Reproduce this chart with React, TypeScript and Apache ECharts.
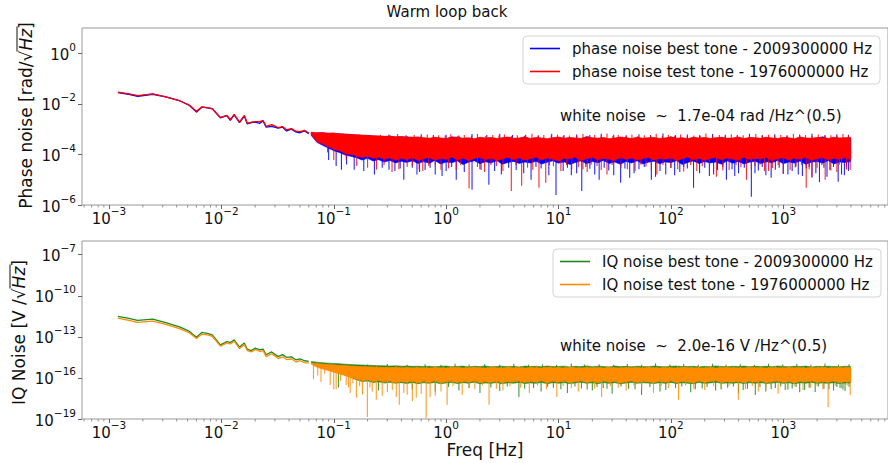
import React, { useEffect, useRef } from 'react';
import * as echarts from 'echarts';

const FONT = "'DejaVu Sans', sans-serif";

// ---------- axis ranges / labels ----------
const X_MIN = 5.75e-4;
const X_MAX = 8.55e3;
const TOP_Y_MIN = 1e-6;
const TOP_Y_MAX = 10;
const BOT_Y_MIN = 1e-19;
const BOT_Y_MAX = 1e-6;
const MINOR_MANTISSAS = [2, 3, 4, 5, 6, 7, 8, 9];
const MINOR_DECADES = [1e-4, 1e-3, 1e-2, 1e-1, 1, 10, 100, 1000];

const TITLE = 'Warm loop back';
const Y_NAME_TOP = 'Phase noise [rad/\u221a{it|Hz}]';
const Y_NAME_BOT = 'IQ Noise [V /\u221a{it|Hz}]';
const X_NAME = 'Freq [Hz]';
const NAME_BEST_PHASE = 'phase noise best tone - 2009300000 Hz';
const NAME_TEST_PHASE = 'phase noise test tone - 1976000000 Hz';
const NAME_BEST_IQ = 'IQ noise best tone - 2009300000 Hz';
const NAME_TEST_IQ = 'IQ noise test tone - 1976000000 Hz';
const NOTE_TOP = 'white noise  ~  1.7e-04 rad /Hz^(0.5)';
const NOTE_BOT = 'white noise  ~  2.0e-16 V /Hz^(0.5)';

// ---------- low-frequency (smooth) part ----------
const lowFreq = [1.2e-3, 1.5e-3, 1.8e-3, 2.45e-3, 3.2e-3, 4.3e-3, 5.2e-3, 6.0e-3, 6.7e-3, 7.5e-3, 8.3e-3, 9.8e-3, 1.12e-2, 1.2e-2, 1.3e-2, 1.45e-2, 1.6e-2, 1.7e-2, 1.85e-2, 2.0e-2, 2.2e-2, 2.35e-2, 2.5e-2, 2.8e-2, 3.2e-2, 3.5e-2, 3.8e-2, 4.2e-2, 4.6e-2, 5.0e-2, 5.5e-2, 6.0e-2];
const phaseBestLow = [0.028, 0.024, 0.020, 0.024, 0.019, 0.013, 0.0086, 0.0047, 0.0074, 0.0070, 0.0063, 0.0028, 0.0034, 0.0022, 0.0037, 0.0018, 0.0033, 0.0016, 0.0018, 0.0019, 0.0017, 0.0021, 0.0012, 0.0013, 0.0011, 0.0012, 0.00085, 0.001, 0.00078, 0.00072, 0.00085, 0.00066];
const phaseTestLow = [0.029, 0.025, 0.021, 0.025, 0.019, 0.013, 0.0089, 0.0051, 0.0076, 0.0071, 0.0065, 0.0029, 0.0035, 0.0024, 0.0038, 0.0019, 0.0035, 0.0017, 0.0019, 0.0020, 0.0020, 0.0022, 0.0013, 0.0015, 0.00115, 0.00126, 0.00095, 0.00105, 0.00083, 0.0008, 0.00089, 0.0007];
const iqBestLow = [3.1e-12, 2.2e-12, 1.6e-12, 1.95e-12, 1.1e-12, 5.1e-13, 2.5e-13, 9.5e-14, 2.1e-13, 1.8e-13, 1.4e-13, 2.6e-14, 4.5e-14, 3.9e-14, 6.0e-14, 1.8e-14, 3.5e-14, 1.26e-14, 1.0e-14, 1.5e-14, 1.1e-14, 1.26e-14, 4.9e-15, 7.9e-15, 3.6e-15, 5.0e-15, 3.2e-15, 3.5e-15, 2.1e-15, 2.5e-15, 1.8e-15, 1.6e-15];
const iqTestLow = [2.3e-12, 1.6e-12, 1.15e-12, 1.4e-12, 8.0e-13, 3.8e-13, 1.9e-13, 7.5e-14, 1.6e-13, 1.4e-13, 1.1e-13, 2.1e-14, 3.6e-14, 3.0e-14, 4.8e-14, 1.4e-14, 2.8e-14, 1.0e-14, 8.0e-15, 1.2e-14, 8.5e-15, 1.0e-14, 3.6e-15, 5.8e-15, 2.6e-15, 3.5e-15, 2.2e-15, 2.5e-15, 1.5e-15, 1.8e-15, 1.3e-15, 1.2e-15];

// ---------- white-noise band: upper / lower envelope ----------
const bandFreq = [0.0631, 0.0708, 0.0794, 0.0891,
  0.1, 0.112, 0.126, 0.141, 0.158, 0.178, 0.2, 0.224, 0.251, 0.282, 0.316, 0.355, 0.398, 0.447, 0.501, 0.562, 0.631, 0.708, 0.794, 0.891,
  1, 1.12, 1.26, 1.41, 1.58, 1.78, 2, 2.24, 2.51, 2.82, 3.16, 3.55, 3.98, 4.47, 5.01, 5.62, 6.31, 7.08, 7.94, 8.91,
  10, 11.2, 12.6, 14.1, 15.8, 17.8, 20, 22.4, 25.1, 28.2, 31.6, 35.5, 39.8, 44.7, 50.1, 56.2, 63.1, 70.8, 79.4, 89.1,
  100, 112, 126, 141, 158, 178, 200, 224, 251, 282, 316, 355, 398, 447, 501, 562, 631, 708, 794, 891,
  1000, 1120, 1260, 1410, 1580, 1780, 2000, 2240, 2510, 2820, 3160, 3550, 3980];

const phaseBestHi = [7.2e-4, 7.1e-4, 7.2e-4, 6.8e-4, 6.9e-4, 6.5e-4, 6.3e-4, 6.1e-4, 5.9e-4, 5.7e-4, 5.6e-4, 5.4e-4, 5.3e-4, 5.1e-4, 5.2e-4, 4.9e-4, 5.0e-4, 4.8e-4, 4.7e-4, 4.8e-4,
  4.4e-4, 4.2e-4, 4.6e-4, 4.3e-4, 4.1e-4, 5.0e-4, 4.6e-4, 4.2e-4, 4.4e-4, 4.0e-4, 4.6e-4, 4.3e-4, 4.5e-4, 4.1e-4, 4.4e-4, 4.7e-4, 4.2e-4, 4.3e-4, 5.0e-4, 4.1e-4,
  4.5e-4, 4.3e-4, 4.0e-4, 4.4e-4, 4.7e-4, 4.2e-4, 4.5e-4, 4.3e-4, 4.1e-4, 5.1e-4, 4.4e-4, 4.2e-4, 4.5e-4, 4.0e-4, 4.3e-4, 4.7e-4, 4.4e-4, 4.1e-4, 4.6e-4, 4.2e-4,
  4.4e-4, 4.5e-4, 4.1e-4, 4.3e-4, 5.0e-4, 4.2e-4, 4.4e-4, 4.0e-4, 4.6e-4, 4.3e-4, 4.5e-4, 4.1e-4, 4.4e-4, 4.6e-4, 4.2e-4, 4.3e-4, 4.7e-4, 4.1e-4, 4.5e-4, 4.4e-4,
  4.2e-4, 4.6e-4, 4.3e-4, 4.1e-4, 4.5e-4, 4.4e-4, 4.0e-4, 4.7e-4, 4.3e-4, 4.2e-4, 4.5e-4, 5.0e-4, 4.1e-4, 4.6e-4, 4.3e-4, 4.4e-4, 4.5e-4];
const phaseBestLo = [5.6e-4, 3.0e-4, 2.3e-4, 1.8e-4, 1.4e-4, 1.2e-4, 9.5e-5, 8.5e-5, 7.5e-5, 6.0e-5, 7.0e-5, 5.5e-5, 6.2e-5, 5.0e-5, 5.8e-5, 4.6e-5, 5.4e-5, 4.8e-5, 5.6e-5, 4.4e-5,
  5.2e-5, 4.5e-5, 5.8e-5, 4.2e-5, 5.0e-5, 4.7e-5, 5.5e-5, 4.0e-5, 4.9e-5, 5.6e-5, 4.3e-5, 5.1e-5, 4.6e-5, 5.7e-5, 4.1e-5, 4.8e-5, 5.3e-5, 4.4e-5, 5.0e-5, 4.6e-5,
  5.4e-5, 4.2e-5, 4.9e-5, 5.6e-5, 4.5e-5, 5.1e-5, 4.0e-5, 4.8e-5, 5.5e-5, 4.3e-5, 5.2e-5, 4.7e-5, 5.8e-5, 4.4e-5, 5.0e-5, 4.1e-5, 5.3e-5, 4.6e-5, 5.6e-5, 4.2e-5,
  4.9e-5, 5.4e-5, 4.3e-5, 5.1e-5, 4.7e-5, 5.7e-5, 4.0e-5, 4.8e-5, 5.5e-5, 4.4e-5, 5.2e-5, 4.6e-5, 5.0e-5, 4.1e-5, 5.6e-5, 4.5e-5, 5.3e-5, 4.2e-5, 4.9e-5, 5.4e-5,
  4.4e-5, 5.1e-5, 4.7e-5, 5.8e-5, 4.3e-5, 5.0e-5, 4.6e-5, 5.5e-5, 4.1e-5, 4.9e-5, 5.3e-5, 4.5e-5, 5.7e-5, 4.2e-5, 5.0e-5, 4.8e-5, 5.2e-5];
const phaseTestHi = [7.6e-4, 7.2e-4, 7.4e-4, 6.9e-4, 7.0e-4, 6.6e-4, 6.4e-4, 6.2e-4, 6.0e-4, 5.8e-4, 5.7e-4, 5.5e-4, 5.4e-4, 5.2e-4, 5.3e-4, 5.0e-4, 5.1e-4, 4.9e-4, 4.8e-4, 4.9e-4,
  4.6e-4, 4.4e-4, 4.8e-4, 4.5e-4, 4.3e-4, 4.7e-4, 4.9e-4, 4.4e-4, 4.6e-4, 4.2e-4, 4.8e-4, 4.5e-4, 4.7e-4, 4.3e-4, 4.6e-4, 4.9e-4, 4.4e-4, 4.5e-4, 4.8e-4, 4.3e-4,
  4.7e-4, 4.5e-4, 4.2e-4, 4.6e-4, 4.9e-4, 4.4e-4, 4.7e-4, 4.5e-4, 4.3e-4, 4.8e-4, 4.6e-4, 4.4e-4, 4.7e-4, 4.2e-4, 4.5e-4, 4.9e-4, 4.6e-4, 4.3e-4, 4.8e-4, 4.4e-4,
  4.6e-4, 4.7e-4, 4.3e-4, 4.5e-4, 4.9e-4, 4.4e-4, 4.6e-4, 4.2e-4, 4.8e-4, 4.5e-4, 4.7e-4, 4.3e-4, 4.6e-4, 4.8e-4, 4.4e-4, 4.5e-4, 4.9e-4, 4.3e-4, 4.7e-4, 4.6e-4,
  4.4e-4, 4.8e-4, 4.5e-4, 4.3e-4, 4.7e-4, 4.6e-4, 4.2e-4, 4.9e-4, 4.5e-4, 4.4e-4, 4.7e-4, 4.6e-4, 4.3e-4, 4.8e-4, 4.5e-4, 4.6e-4, 4.7e-4];
const phaseTestLo = [6.0e-4, 3.2e-4, 2.6e-4, 2.0e-4, 1.6e-4, 1.4e-4, 1.1e-4, 1.0e-4, 9.0e-5, 7.5e-5, 8.5e-5, 7.0e-5, 7.8e-5, 6.5e-5, 7.2e-5, 6.0e-5, 7.0e-5, 6.2e-5, 7.5e-5, 5.8e-5,
  6.8e-5, 7.6e-5, 5.9e-5, 7.0e-5, 6.3e-5, 8.0e-5, 6.0e-5, 7.3e-5, 5.6e-5, 6.9e-5, 7.8e-5, 6.1e-5, 7.1e-5, 5.7e-5, 6.6e-5, 7.7e-5, 6.2e-5, 7.4e-5, 5.9e-5, 6.8e-5,
  7.9e-5, 6.0e-5, 7.2e-5, 6.4e-5, 5.5e-5, 7.0e-5, 6.7e-5, 7.8e-5, 5.8e-5, 6.9e-5, 7.5e-5, 6.1e-5, 7.1e-5, 6.5e-5, 5.7e-5, 7.6e-5, 6.3e-5, 7.3e-5, 6.0e-5, 6.8e-5,
  7.7e-5, 5.9e-5, 7.0e-5, 6.4e-5, 7.4e-5, 5.6e-5, 6.7e-5, 7.9e-5, 6.2e-5, 7.1e-5, 5.8e-5, 6.9e-5, 7.5e-5, 6.1e-5, 7.2e-5, 6.5e-5, 5.9e-5, 7.8e-5, 6.3e-5, 7.0e-5,
  6.6e-5, 7.6e-5, 5.7e-5, 6.9e-5, 7.3e-5, 6.0e-5, 7.1e-5, 6.4e-5, 7.7e-5, 5.8e-5, 6.8e-5, 7.4e-5, 6.2e-5, 7.0e-5, 6.5e-5, 7.5e-5, 6.1e-5];

const iqBestHi = [1.6e-15, 1.4e-15, 1.3e-15, 1.2e-15, 1.15e-15, 1.1e-15, 1.0e-15, 9.5e-16, 9.0e-16, 8.8e-16, 8.4e-16, 8.2e-16, 7.9e-16, 7.7e-16, 7.4e-16, 7.6e-16, 7.2e-16, 7.3e-16, 7.0e-16, 7.2e-16,
  6.8e-16, 7.2e-16, 6.5e-16, 7.0e-16, 7.4e-16, 6.6e-16, 6.9e-16, 7.3e-16, 6.4e-16, 7.1e-16, 6.7e-16, 7.5e-16, 6.5e-16, 6.9e-16, 7.2e-16, 6.6e-16, 7.0e-16, 6.3e-16, 7.3e-16, 6.8e-16,
  7.1e-16, 6.5e-16, 7.4e-16, 6.7e-16, 6.9e-16, 7.2e-16, 6.4e-16, 7.0e-16, 6.8e-16, 7.5e-16, 6.6e-16, 7.1e-16, 6.9e-16, 6.4e-16, 7.3e-16, 6.7e-16, 7.0e-16, 6.5e-16, 7.2e-16, 6.8e-16,
  6.6e-16, 7.3e-16, 6.9e-16, 6.5e-16, 7.1e-16, 7.4e-16, 6.7e-16, 6.8e-16, 7.2e-16, 6.4e-16, 7.0e-16, 6.6e-16, 7.5e-16, 6.9e-16, 6.5e-16, 7.1e-16, 6.8e-16, 7.3e-16, 6.6e-16, 7.0e-16,
  6.7e-16, 7.2e-16, 6.5e-16, 7.4e-16, 6.9e-16, 6.6e-16, 7.1e-16, 6.8e-16, 7.3e-16, 6.4e-16, 7.0e-16, 6.7e-16, 7.2e-16, 6.9e-16, 6.5e-16, 7.1e-16, 6.8e-16];
const iqBestLo = [1.3e-15, 7.5e-16, 5.5e-16, 4.0e-16, 3.0e-16, 2.2e-16, 1.6e-16, 1.1e-16, 7.5e-17, 5.5e-17, 6.0e-17, 4.6e-17, 5.2e-17, 4.2e-17, 4.8e-17, 4.0e-17, 4.5e-17, 3.9e-17, 4.6e-17, 3.8e-17,
  4.4e-17, 4.0e-17, 4.7e-17, 3.8e-17, 4.3e-17, 4.6e-17, 3.9e-17, 4.5e-17, 4.1e-17, 4.8e-17, 3.8e-17, 4.3e-17, 4.0e-17, 4.6e-17, 3.7e-17, 4.4e-17, 4.1e-17, 4.7e-17, 3.9e-17, 4.3e-17,
  4.0e-17, 4.6e-17, 3.8e-17, 4.5e-17, 4.1e-17, 4.5e-17, 3.9e-17, 4.3e-17, 4.8e-17, 4.0e-17, 4.4e-17, 3.8e-17, 4.6e-17, 4.0e-17, 4.5e-17, 3.7e-17, 4.2e-17, 4.7e-17, 4.0e-17, 4.4e-17,
  4.2e-17, 3.9e-17, 4.5e-17, 4.0e-17, 4.7e-17, 3.9e-17, 4.4e-17, 4.1e-17, 3.8e-17, 4.6e-17, 4.0e-17, 4.3e-17, 4.8e-17, 4.0e-17, 4.3e-17, 4.1e-17, 4.5e-17, 3.9e-17, 4.4e-17, 4.1e-17,
  4.5e-17, 3.9e-17, 4.2e-17, 4.6e-17, 4.0e-17, 4.4e-17, 3.8e-17, 4.4e-17, 4.1e-17, 4.7e-17, 4.0e-17, 4.3e-17, 4.0e-17, 4.5e-17, 3.9e-17, 4.3e-17, 4.2e-17];
const iqTestHi = [1.25e-15, 1.15e-15, 1.05e-15, 9.5e-16, 9.0e-16, 8.5e-16, 8.0e-16, 7.5e-16, 7.0e-16, 6.8e-16, 6.5e-16, 6.3e-16, 6.1e-16, 6.0e-16, 5.8e-16, 5.9e-16, 5.6e-16, 5.7e-16, 5.5e-16, 5.6e-16,
  5.6e-16, 5.4e-16, 5.8e-16, 5.5e-16, 5.3e-16, 5.9e-16, 5.7e-16, 5.4e-16, 5.6e-16, 6.0e-16, 5.5e-16, 5.3e-16, 5.8e-16, 5.6e-16, 5.4e-16, 5.9e-16, 5.5e-16, 5.7e-16, 5.3e-16, 5.8e-16,
  5.6e-16, 5.4e-16, 6.0e-16, 5.5e-16, 5.7e-16, 5.3e-16, 5.9e-16, 5.6e-16, 5.4e-16, 5.8e-16, 5.5e-16, 5.7e-16, 5.3e-16, 6.1e-16, 5.6e-16, 5.4e-16, 5.8e-16, 5.5e-16, 5.7e-16, 5.3e-16,
  5.9e-16, 5.6e-16, 5.4e-16, 5.8e-16, 5.5e-16, 5.3e-16, 6.0e-16, 5.7e-16, 5.5e-16, 5.6e-16, 5.4e-16, 5.9e-16, 5.3e-16, 5.7e-16, 5.8e-16, 5.5e-16, 5.6e-16, 5.4e-16, 6.0e-16, 5.5e-16,
  5.7e-16, 5.3e-16, 5.8e-16, 5.6e-16, 5.4e-16, 5.9e-16, 5.5e-16, 5.7e-16, 5.3e-16, 5.8e-16, 5.6e-16, 6.0e-16, 5.4e-16, 5.5e-16, 5.7e-16, 5.6e-16, 5.8e-16];
const iqTestLo = [1.0e-15, 6.0e-16, 4.5e-16, 3.5e-16, 2.6e-16, 2.0e-16, 1.5e-16, 1.1e-16, 8.5e-17, 6.5e-17, 7.5e-17, 5.5e-17, 6.5e-17, 5.0e-17, 6.0e-17, 4.5e-17, 5.5e-17, 4.8e-17, 6.0e-17, 4.4e-17,
  5.4e-17, 4.7e-17, 6.1e-17, 4.3e-17, 5.2e-17, 5.8e-17, 4.5e-17, 5.6e-17, 4.9e-17, 6.2e-17, 4.4e-17, 5.3e-17, 4.7e-17, 5.9e-17, 4.2e-17, 5.5e-17, 5.0e-17, 6.0e-17, 4.6e-17, 5.4e-17,
  4.8e-17, 6.1e-17, 4.3e-17, 5.6e-17, 5.0e-17, 5.8e-17, 4.5e-17, 5.3e-17, 6.2e-17, 4.7e-17, 5.5e-17, 4.4e-17, 5.9e-17, 4.9e-17, 5.7e-17, 4.2e-17, 5.2e-17, 6.0e-17, 4.6e-17, 5.4e-17,
  5.1e-17, 4.4e-17, 5.8e-17, 4.8e-17, 6.1e-17, 4.5e-17, 5.5e-17, 5.0e-17, 4.3e-17, 5.9e-17, 4.7e-17, 5.4e-17, 6.2e-17, 4.6e-17, 5.3e-17, 4.9e-17, 5.7e-17, 4.4e-17, 5.6e-17, 5.0e-17,
  5.8e-17, 4.5e-17, 5.2e-17, 6.0e-17, 4.7e-17, 5.5e-17, 4.3e-17, 5.7e-17, 5.0e-17, 6.1e-17, 4.6e-17, 5.4e-17, 4.8e-17, 5.9e-17, 4.4e-17, 5.3e-17, 5.1e-17];

// ---------- spikes outside the band: [freq, value] ----------
const phaseBestDips = [[0.09, 6e-5], [0.105, 3.5e-5], [0.117, 2.5e-5], [0.13, 4e-5], [0.152, 2.5e-5], [0.185, 2.2e-5], [0.23, 1.6e-5], [0.27, 3e-5], [0.31, 2.5e-5], [0.35, 2.2e-5], [0.39, 2.8e-5], [0.42, 1e-5], [0.5, 3e-5], [0.55, 1.6e-5], [0.58, 2e-5], [0.65, 2.4e-5], [0.72, 3e-5], [0.8, 1.6e-5], [0.92, 1.4e-5], [1.0, 2.2e-5], [1.12, 3.2e-5], [1.23, 1e-5], [1.45, 2e-5], [1.7, 4e-6], [2.0, 2.6e-5], [2.4, 6.3e-6], [2.7, 2.2e-5], [3.1, 1.6e-5], [3.6, 3e-5], [4.2, 2.4e-5], [4.9, 1.8e-5], [5.7, 1e-5], [6.3, 3.2e-5], [7, 2.8e-5], [8.2, 1.5e-5], [9.5, 2.5e-6], [11, 2.2e-5], [12, 3e-5], [13, 1.5e-5], [14.5, 1.8e-5], [16.1, 3.6e-6], [17.5, 3.2e-5], [19, 2.7e-5], [21, 1.6e-5], [23, 1e-5], [25.5, 3e-5], [28, 2.3e-5], [31, 1.5e-5], [35.7, 7.6e-6], [39, 2.8e-5], [43, 1.2e-5], [47, 1.8e-5], [52, 2.6e-5], [58, 3.2e-5], [67, 1e-5], [73, 1.3e-5], [80, 2.2e-5], [90, 1.6e-5], [100, 3e-5], [108, 1.5e-5], [120, 2e-5], [130, 3.2e-5], [140, 2.8e-5], [159, 4.8e-6], [180, 1.8e-5], [200, 3e-5], [220, 1.4e-5], [240, 1.6e-5], [260, 2.4e-5], [290, 3.2e-5], [312, 1e-5], [350, 2.6e-5], [370, 1.4e-5], [400, 1.8e-5], [450, 3e-5], [520, 2.1e-6], [560, 1.8e-5], [600, 2.3e-5], [650, 3.2e-5], [700, 1.5e-5], [780, 1.2e-5], [850, 2.5e-5], [920, 3e-5], [1000, 1.7e-5], [1100, 1.6e-5], [1200, 2.2e-5], [1280, 3.1e-5], [1360, 1.6e-5], [1480, 1.4e-5], [1600, 2.8e-5], [1700, 3.2e-5], [1800, 1.2e-5], [1950, 1.8e-5], [2100, 8e-6], [2300, 3e-5], [2450, 1.3e-5], [2600, 2.4e-5], [2800, 3.2e-5], [3080, 8.3e-6], [3300, 1.6e-5], [3500, 1.5e-5], [3650, 3e-5], [3800, 2.2e-5]];
const phaseTestDips = [[0.088, 1.2e-4], [0.1, 6e-5], [0.129, 6.2e-5], [0.16, 3.5e-5], [0.2, 3e-5], [0.24, 2.5e-5], [0.28, 3.8e-5], [0.33, 2e-5], [0.38, 2.6e-5], [0.45, 3.2e-5], [0.5, 3.6e-5], [0.575, 2.5e-5], [0.62, 2.2e-5], [0.7, 3.5e-5], [0.8, 3.8e-5], [0.9, 2.5e-5], [1.05, 2.8e-5], [1.23, 2.5e-5], [1.35, 3.8e-5], [1.6, 4.5e-6], [1.9, 3.2e-5], [2.05, 2.4e-5], [2.2, 2e-5], [2.5, 3.8e-5], [2.8, 3.5e-5], [3.2, 2.2e-5], [3.8, 3.6e-6], [4.2, 3.8e-5], [4.7, 5.8e-6], [5.3, 3.0e-5], [5.9, 2.5e-5], [6.7, 4.8e-6], [7.7, 7.6e-6], [8.3, 3.8e-5], [9, 3.4e-5], [10.5, 2.2e-5], [11.8, 3.8e-5], [13.1, 2.5e-5], [15, 3.1e-5], [16.5, 2.6e-5], [18, 2e-5], [19.5, 3.9e-5], [22, 3.5e-5], [24, 2.4e-5], [27, 1.6e-5], [30, 3.8e-5], [36, 3.0e-5], [41, 2.6e-5], [48, 2.2e-5], [54, 3.9e-5], [60, 3.3e-5], [67, 2.3e-5], [75, 1.6e-5], [85, 3.8e-5], [100, 2.9e-5], [115, 2.6e-5], [130, 2.1e-5], [150, 3.8e-5], [170, 2.2e-5], [190, 3.4e-5], [220, 3.9e-5], [254, 1.3e-5], [290, 2.3e-5], [330, 2.4e-5], [380, 3.8e-5], [420, 3.1e-5], [470, 1e-5], [520, 2.5e-5], [560, 3.5e-5], [620, 3.9e-5], [680, 2.2e-5], [740, 2.2e-5], [800, 2.9e-5], [900, 3.8e-5], [1000, 1.8e-5], [1150, 2.4e-5], [1300, 3.3e-5], [1450, 3.9e-5], [1600, 4.8e-6], [1700, 2.6e-5], [1800, 1.3e-5], [2000, 3.0e-5], [2200, 3.8e-5], [2360, 1e-5], [2650, 2.3e-5], [3000, 2e-5], [3150, 3.9e-5], [3300, 3.4e-5], [3650, 2.5e-5], [3940, 2.5e-5]];
const phaseBestPeaks = [[0.14, 6.4e-4], [0.21, 5.9e-4], [0.31, 6.1e-4], [0.44, 5.7e-4], [0.6, 6.3e-4], [0.77, 5.8e-4], [1.0, 6.0e-4], [1.3, 5.6e-4], [1.7, 6.4e-4], [2.3, 5.9e-4], [3.0, 6.6e-4], [3.9, 5.8e-4], [5.1, 6.0e-4], [6.6, 5.7e-4], [8.7, 6.5e-4], [11.2, 5.9e-4], [14.5, 6.2e-4], [19, 5.8e-4], [24, 6.6e-4], [31, 6.0e-4], [40, 5.7e-4], [52, 6.3e-4], [66, 5.9e-4], [85, 6.7e-4], [110, 5.8e-4], [140, 6.2e-4], [180, 5.7e-4], [235, 6.4e-4], [305, 6.0e-4], [390, 5.8e-4], [500, 6.5e-4], [650, 5.9e-4], [840, 6.3e-4], [1080, 5.7e-4], [1400, 6.1e-4], [1800, 6.6e-4], [2350, 5.8e-4], [3000, 6.3e-4], [3800, 6.0e-4]];
const phaseTestPeaks = [[0.12, 6.6e-4], [0.145, 5.8e-4], [0.17, 6.2e-4], [0.22, 5.5e-4], [0.26, 6.0e-4], [0.32, 5.6e-4], [0.37, 6.4e-4], [0.45, 5.4e-4], [0.52, 5.8e-4], [0.6, 5.5e-4], [0.68, 6.1e-4], [0.77, 5.3e-4], [0.86, 5.7e-4], [0.98, 5.6e-4], [1.1, 6.3e-4], [1.27, 5.4e-4], [1.45, 5.9e-4], [1.68, 5.5e-4], [1.9, 6.5e-4], [2.25, 5.3e-4], [2.6, 5.8e-4], [2.95, 5.6e-4], [3.3, 6.2e-4], [3.8, 5.4e-4], [4.3, 5.7e-4], [5.0, 5.5e-4], [5.8, 6.6e-4], [6.6, 5.3e-4], [7.4, 5.9e-4], [8.6, 5.6e-4], [9.8, 6.1e-4], [11, 5.4e-4], [12.5, 5.6e-4], [14.5, 5.5e-4], [16.5, 6.4e-4], [18.7, 5.3e-4], [21, 5.8e-4], [24, 5.6e-4], [27, 6.7e-4], [30.5, 5.4e-4], [34, 5.9e-4], [40, 5.5e-4], [45, 6.2e-4], [51, 5.3e-4], [58, 5.7e-4], [66, 5.6e-4], [74, 6.5e-4], [84, 5.4e-4], [95, 5.8e-4], [108, 5.5e-4], [122, 6.1e-4], [140, 5.3e-4], [160, 5.6e-4], [182, 5.6e-4], [205, 6.8e-4], [235, 5.4e-4], [270, 5.9e-4], [305, 5.5e-4], [345, 6.3e-4], [390, 5.3e-4], [440, 5.7e-4], [500, 5.6e-4], [570, 6.4e-4], [650, 5.4e-4], [740, 6.0e-4], [840, 5.5e-4], [950, 5.8e-4], [1080, 5.3e-4], [1230, 6.6e-4], [1400, 5.6e-4], [1580, 5.9e-4], [1800, 5.4e-4], [2050, 6.2e-4], [2350, 5.5e-4], [2650, 5.7e-4], [3000, 5.3e-4], [3400, 6.4e-4], [3800, 5.6e-4]];

const iqBestDips = [[0.11, 2e-17], [0.25, 1.2e-17], [0.5, 1.5e-17], [0.8, 1e-17], [1.05, 2.2e-17], [1.3, 1.2e-17], [1.6, 1.8e-17], [2.0, 8e-18], [2.5, 2e-17], [3.0, 1.1e-17], [3.5, 2.4e-17], [4.44, 4.1e-18], [5, 1.6e-17], [6, 1.8e-17], [7, 1e-17], [8, 2.3e-17], [9, 1.9e-17], [10.5, 1.5e-17], [12, 8e-18], [14, 2.4e-17], [16, 1.7e-17], [18, 1.4e-17], [20, 1.2e-17], [22, 2.2e-17], [25, 1.8e-17], [27, 1.6e-17], [30, 7e-18], [36, 2.4e-17], [42, 1.6e-17], [48, 1.5e-17], [54.8, 5.7e-18], [65, 2.2e-17], [80, 1e-17], [90, 1.3e-17], [110, 1.8e-17], [125, 2.4e-17], [150, 9e-18], [165, 1.5e-17], [190, 1.7e-17], [210, 2.2e-17], [250, 1.2e-17], [280, 1.4e-17], [320, 1.9e-17], [360, 2.4e-17], [400, 8e-18], [440, 1.3e-17], [480, 1.6e-17], [564, 5.7e-18], [620, 2.2e-17], [700, 1e-17], [780, 1.5e-17], [850, 1.8e-17], [950, 2.4e-17], [1041, 1.3e-17], [1100, 1.4e-17], [1200, 1.7e-17], [1300, 2.2e-17], [1400, 9e-18], [1550, 1.3e-17], [1700, 1.9e-17], [1923, 9.5e-18], [2050, 2.4e-17], [2300, 1.6e-17], [2550, 1.5e-17], [2800, 1.2e-17], [3000, 2.2e-17], [3200, 1.8e-17], [3400, 1.4e-17], [3548, 1.1e-17], [3850, 2.3e-17]];
const iqTestDips = [[0.066, 8e-17], [0.072, 1.5e-16], [0.077, 5e-17], [0.083, 2e-16], [0.093, 3e-17], [0.1, 1.5e-17], [0.105, 1.5e-17], [0.115, 6e-17], [0.129, 3.1e-17], [0.135, 2e-17], [0.14, 8e-18], [0.148, 4e-17], [0.159, 3.5e-18], [0.17, 2.5e-17], [0.18, 6e-18], [0.19, 5e-17], [0.199, 1.4e-19], [0.21, 2e-17], [0.22, 1e-17], [0.239, 2.5e-18], [0.27, 5e-18], [0.3, 9e-18], [0.332, 1.3e-17], [0.36, 4e-18], [0.383, 1.1e-18], [0.42, 8e-18], [0.45, 6e-18], [0.5, 2e-18], [0.542, 3.5e-18], [0.6, 7e-18], [0.664, 1.2e-19], [0.72, 4e-18], [0.8, 5e-18], [0.9, 1e-17], [1.02, 1.1e-18], [1.15, 2.5e-17], [1.39, 5.7e-18], [1.6, 1.8e-17], [1.8, 1.5e-17], [2.1, 2.8e-17], [2.41, 1.1e-18], [2.8, 1.6e-17], [3.2, 1.2e-17], [3.7, 2.6e-17], [4.6, 1.9e-17], [5.5, 8e-18], [6.5, 2.7e-17], [7.8, 1.5e-17], [9.66, 4.1e-18], [11, 2.6e-17], [13, 1.8e-17], [15, 1e-17], [18, 2.8e-17], [21, 1.6e-17], [24.2, 4.1e-18], [29, 2.5e-17], [34, 1.9e-17], [40, 1.2e-17], [47, 2.7e-17], [55, 1.5e-17], [70, 8e-18], [82, 2.6e-17], [95, 1.8e-17], [117, 2.5e-18], [135, 2.8e-17], [160, 1.6e-17], [200, 1.3e-17], [240, 2.5e-17], [280, 1.9e-17], [330, 2.7e-17], [398, 2.5e-18], [460, 1.5e-17], [530, 2.6e-17], [600, 1e-17], [700, 1.8e-17], [780, 2.8e-17], [900, 7e-18], [1050, 1.6e-17], [1250, 2.5e-17], [1500, 1.3e-17], [1750, 1.9e-17], [2000, 2.7e-17], [2250, 1.5e-17], [2506, 7.6e-19], [2900, 2.6e-17], [3300, 1.8e-17], [3700, 2.8e-17], [3940, 5.7e-18]];
const iqBestPeaks = [[0.13, 1.0e-15], [0.2, 9.5e-16], [0.3, 1.05e-15], [0.45, 9.2e-16], [0.65, 1.0e-15], [0.9, 9.0e-16], [1.2, 1.1e-15], [1.6, 9.4e-16], [2.2, 1.0e-15], [3.0, 9.1e-16], [4.0, 1.08e-15], [5.4, 9.3e-16], [7.2, 1.0e-15], [9.6, 9.0e-16], [13, 1.12e-15], [17, 9.4e-16], [23, 1.0e-15], [31, 9.2e-16], [41, 1.06e-15], [55, 9.0e-16], [73, 1.15e-15], [98, 9.5e-16], [130, 1.02e-15], [175, 9.1e-16], [235, 1.07e-15], [310, 9.3e-16], [415, 1.0e-15], [555, 9.0e-16], [740, 1.1e-15], [990, 9.4e-16], [1320, 1.03e-15], [1760, 9.2e-16], [2350, 1.12e-15], [3100, 9.5e-16], [3850, 1.0e-15]];
const iqTestPeaks = [[0.15, 7.6e-16], [0.19, 6.6e-16], [0.24, 7.2e-16], [0.3, 6.5e-16], [0.36, 7.8e-16], [0.45, 6.7e-16], [0.55, 7.0e-16], [0.67, 6.4e-16], [0.8, 7.5e-16], [0.95, 6.6e-16], [1.1, 7.1e-16], [1.3, 6.5e-16], [1.5, 7.9e-16], [1.75, 6.7e-16], [2.0, 7.0e-16], [2.35, 6.4e-16], [2.7, 7.4e-16], [3.1, 6.6e-16], [3.6, 7.8e-16], [4.2, 6.5e-16], [4.8, 7.1e-16], [5.6, 6.7e-16], [6.4, 7.6e-16], [7.4, 6.4e-16], [8.5, 7.0e-16], [10, 6.6e-16], [11.5, 7.7e-16], [13.3, 6.5e-16], [15.3, 7.2e-16], [17.8, 6.7e-16], [20.5, 8.0e-16], [23.5, 6.4e-16], [27, 7.1e-16], [31, 6.6e-16], [36, 7.5e-16], [42, 6.5e-16], [48, 7.0e-16], [56, 6.7e-16], [64, 7.8e-16], [74, 6.4e-16], [85, 7.2e-16], [98, 6.6e-16], [114, 7.5e-16], [131, 6.5e-16], [152, 7.0e-16], [176, 6.7e-16], [203, 7.9e-16], [235, 6.4e-16], [270, 7.1e-16], [312, 6.6e-16], [360, 7.6e-16], [415, 6.5e-16], [480, 7.2e-16], [555, 6.7e-16], [640, 7.8e-16], [740, 6.4e-16], [855, 7.0e-16], [990, 6.6e-16], [1140, 7.5e-16], [1320, 6.5e-16], [1520, 7.1e-16], [1760, 6.7e-16], [2030, 7.7e-16], [2350, 6.4e-16], [2700, 7.2e-16], [3100, 6.6e-16], [3600, 7.6e-16], [3900, 6.5e-16]];

// ---------- colours ----------
const BLUE = '#0000ff';
const RED = '#ff0000';
const GREEN = '#1f8a1f';
const ORANGE = '#ff8c00';

const powLabel = (v: number) => {
  const l = Math.log10(v);
  const e = Math.round(l);
  if (Math.abs(l - e) > 1e-6) return '';
  return `{b|10}{s|${e < 0 ? '\u2212' : ''}${Math.abs(e)}}`;
};

const tickRich = {
  b: { fontSize: 15, fontFamily: FONT, color: '#111', verticalAlign: 'bottom', lineHeight: 18 },
  s: { fontSize: 10.5, fontFamily: FONT, color: '#111', verticalAlign: 'bottom', lineHeight: 12, padding: [0, 0, 10, 0] },
};

function lineSeries(name: string, gi: number, ys: number[], color: string, z: number) {
  return {
    type: 'line', name, xAxisIndex: gi, yAxisIndex: gi, z,
    data: lowFreq.map((f, i) => [f, ys[i]]),
    symbol: 'none', showSymbol: false, lineStyle: { color, width: 1.3 }, itemStyle: { color },
  };
}

function bandSeries(gi: number, hi: number[], lo: number[], color: string, z: number) {
  return {
    type: 'custom', xAxisIndex: gi, yAxisIndex: gi, z, silent: true,
    data: [[bandFreq[0], hi[0]]],
    renderItem: (_p: any, api: any) => {
      const pts: number[][] = [];
      for (let i = 0; i < bandFreq.length; i++) pts.push(api.coord([bandFreq[i], hi[i]]));
      for (let i = bandFreq.length - 1; i >= 0; i--) pts.push(api.coord([bandFreq[i], lo[i]]));
      return { type: 'polygon', shape: { points: pts }, style: { fill: color, stroke: color, lineWidth: 0.6 } };
    },
  };
}

function nearestBand(f: number) {
  let best = 0;
  let bd = Infinity;
  for (let i = 0; i < bandFreq.length; i++) {
    const d = Math.abs(Math.log(f / bandFreq[i]));
    if (d < bd) { bd = d; best = i; }
  }
  return best;
}

// vertical spikes starting inside the band (geometric middle of its envelope)
function spikeSeries(gi: number, spikes: number[][], hi: number[], lo: number[], color: string, z: number) {
  return {
    type: 'custom', xAxisIndex: gi, yAxisIndex: gi, z, silent: true,
    data: spikes,
    renderItem: (_p: any, api: any) => {
      const f = api.value(0);
      const k = nearestBand(f);
      const from = Math.sqrt(hi[k] * lo[k]);
      const a = api.coord([f, from]);
      const b = api.coord([f, api.value(1)]);
      return { type: 'line', shape: { x1: a[0], y1: a[1], x2: b[0], y2: b[1] }, style: { stroke: color, lineWidth: 1.1, opacity: 0.85 } };
    },
  };
}

const minorX = MINOR_DECADES.flatMap((d) => MINOR_MANTISSAS.map((m) => m * d)).filter((v) => v > X_MIN && v < X_MAX);

function minorTickSeries(gi: number, yMin: number) {
  return {
    type: 'custom', xAxisIndex: gi, yAxisIndex: gi, z: 10, silent: true, clip: false,
    data: minorX.map((v) => [v, yMin]),
    renderItem: (_p: any, api: any) => {
      const p = api.coord([api.value(0), api.value(1)]);
      return { type: 'line', shape: { x1: p[0], y1: p[1], x2: p[0], y2: p[1] + 2.5 }, style: { stroke: '#777', lineWidth: 0.8 } };
    },
  };
}

function xAxis(gi: number, name: string) {
  return {
    type: 'log', logBase: 10, gridIndex: gi, min: X_MIN, max: X_MAX,
    name, nameLocation: 'middle', nameGap: 22,
    nameTextStyle: { fontSize: 17, fontFamily: FONT, color: '#111' },
    axisLine: { show: false },
    axisTick: { show: true, length: 4, lineStyle: { color: '#666' } },
    splitLine: { show: false },
    minorTick: { show: false },
    axisLabel: { formatter: powLabel, rich: tickRich, margin: 3, showMinLabel: false, showMaxLabel: false },
  };
}

function yAxis(gi: number, min: number, max: number, interval: number) {
  return {
    type: 'log', logBase: 10, gridIndex: gi, min, max, interval,
    axisLine: { show: false },
    axisTick: { show: true, length: 4, lineStyle: { color: '#666' } },
    splitLine: { show: false },
    axisLabel: { formatter: powLabel, rich: tickRich, margin: 6, showMaxLabel: false },
  };
}

function yName(x: number, y: number, text: string, olFrom: number, olTo: number) {
  return {
    type: 'group', x, y, rotation: Math.PI / 2,
    children: [
      {
        type: 'text', x: 0, y: 0,
        style: {
          text, fontSize: 17, fontFamily: FONT, fill: '#111', align: 'center', verticalAlign: 'middle',
          rich: { it: { fontSize: 17, fontFamily: FONT, fontStyle: 'italic', fill: '#111' } },
        },
      },
      { type: 'line', shape: { x1: olFrom, y1: -8.5, x2: olTo, y2: -8.5 }, style: { stroke: '#111', lineWidth: 1 } },
    ],
  };
}

const legendCommon = {
  orient: 'vertical', itemWidth: 30, itemHeight: 1.6, itemGap: 8, icon: 'rect',
  padding: [5, 8, 5, 7], borderColor: '#d4d4d4', borderWidth: 1, borderRadius: 4,
  backgroundColor: 'rgba(255,255,255,0.85)', selectedMode: false,
  textStyle: { fontSize: 15, fontFamily: FONT, color: '#111', padding: [0, 0, 0, 7], lineHeight: 15 },
};

const option = {
  animation: false,
  backgroundColor: '#fff',
  textStyle: { fontFamily: FONT },
  grid: [
    { left: 82, top: 28, width: 808, height: 177, show: true, borderColor: '#999', borderWidth: 1, backgroundColor: 'transparent' },
    { left: 82, top: 241, width: 808, height: 178, show: true, borderColor: '#999', borderWidth: 1, backgroundColor: 'transparent' },
  ],
  xAxis: [xAxis(0, ''), xAxis(1, X_NAME)],
  yAxis: [yAxis(0, TOP_Y_MIN, TOP_Y_MAX, 2), yAxis(1, BOT_Y_MIN, BOT_Y_MAX, 3)],
  legend: [
    { ...legendCommon, data: [NAME_BEST_PHASE, NAME_TEST_PHASE], left: 523, top: 36 },
    { ...legendCommon, data: [NAME_BEST_IQ, NAME_TEST_IQ], left: 553, top: 249 },
  ],
  graphic: [
    { type: 'text', x: 447, y: 12, style: { text: TITLE, fontSize: 15, fontFamily: FONT, fill: '#111', align: 'center', verticalAlign: 'middle' } },
    { type: 'text', left: 560, top: 108, style: { text: NOTE_TOP, fontSize: 15, fontFamily: FONT, fill: '#111' } },
    { type: 'text', left: 560, top: 338, style: { text: NOTE_BOT, fontSize: 15, fontFamily: FONT, fill: '#111' } },
    yName(25.5, 115.5, Y_NAME_TOP, 64, 89),
    yName(18.5, 332.5, Y_NAME_BOT, 44, 68),
  ],
  series: [
    bandSeries(0, phaseBestHi, phaseBestLo, BLUE, 2),
    spikeSeries(0, phaseBestDips, phaseBestHi, phaseBestLo, BLUE, 2),
    spikeSeries(0, phaseBestPeaks, phaseBestHi, phaseBestLo, BLUE, 2),
    lineSeries(NAME_BEST_PHASE, 0, phaseBestLow, BLUE, 3),
    bandSeries(0, phaseTestHi, phaseTestLo, RED, 4),
    spikeSeries(0, phaseTestDips, phaseTestHi, phaseTestLo, RED, 4),
    spikeSeries(0, phaseTestPeaks, phaseTestHi, phaseTestLo, RED, 4),
    lineSeries(NAME_TEST_PHASE, 0, phaseTestLow, RED, 5),
    bandSeries(1, iqBestHi, iqBestLo, GREEN, 2),
    spikeSeries(1, iqBestDips, iqBestHi, iqBestLo, GREEN, 2),
    spikeSeries(1, iqBestPeaks, iqBestHi, iqBestLo, GREEN, 2),
    lineSeries(NAME_BEST_IQ, 1, iqBestLow, GREEN, 3),
    bandSeries(1, iqTestHi, iqTestLo, ORANGE, 4),
    spikeSeries(1, iqTestDips, iqTestHi, iqTestLo, ORANGE, 4),
    spikeSeries(1, iqTestPeaks, iqTestHi, iqTestLo, ORANGE, 4),
    lineSeries(NAME_TEST_IQ, 1, iqTestLow, ORANGE, 5),
    minorTickSeries(0, TOP_Y_MIN),
    minorTickSeries(1, BOT_Y_MIN),
  ],
};

export default function App() {
  const ref = useRef<HTMLDivElement>(null);
  useEffect(() => {
    const chart = echarts.init(ref.current!, null, { renderer: 'svg' });
    chart.setOption(option as any);
    return () => chart.dispose();
  }, []);
  return <div ref={ref} style={{ position: 'fixed', left: 0, top: 0, width: 888, height: 463, background: '#fff' }} />;
}
